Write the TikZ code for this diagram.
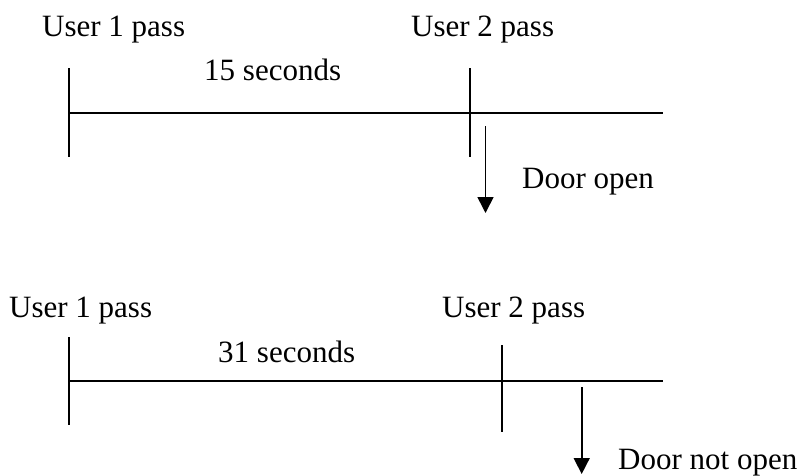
\documentclass[tikz,border=0pt]{standalone}
\usepackage{fontspec}
\setmainfont{Liberation Serif}
\usetikzlibrary{arrows.meta}
\begin{document}
\begin{tikzpicture}[x=1pt,y=-1pt,
  lbl/.style={anchor=base west,inner sep=0pt,font=\fontsize{31}{37}\selectfont},
  tl/.style={line width=1.6pt},
  arr/.style={line width=1.6pt,-{Triangle[width=16pt,length=16pt]}}]
\useasboundingbox (0,0) rectangle (802,475);
% top timeline
\coordinate (a1) at (69,113);
\coordinate (a2) at (663,113);
\coordinate (a1t) at (69,68);
\coordinate (a1b) at (69,157);
\coordinate (a2t) at (470,68);
\coordinate (a2b) at (470,157);
\coordinate (a3t) at (485.5,126);
\coordinate (a3b) at (485.5,213);
\draw[tl] (a1) -- (a2);
\draw[tl] (a1t) -- (a1b);
\draw[tl] (a2t) -- (a2b);
\draw[arr] (a3t) -- (a3b);
\node[lbl] (tu1) at (42,36) {User 1 pass};
\node[lbl] (tu2) at (411,36) {User 2 pass};
\node[lbl] (tsec) at (204,80) {15 seconds};
\node[lbl] (tdoor) at (522,188) {Door open};
% bottom timeline
\coordinate (b1) at (69,381);
\coordinate (b2) at (663,381);
\coordinate (b1t) at (69,337);
\coordinate (b1b) at (69,425);
\coordinate (b2t) at (501.7,345);
\coordinate (b2b) at (501.7,432);
\coordinate (b3t) at (581.7,387);
\coordinate (b3b) at (581.7,474);
\draw[tl] (b1) -- (b2);
\draw[tl] (b1t) -- (b1b);
\draw[tl] (b2t) -- (b2b);
\draw[arr] (b3t) -- (b3b);
\node[lbl] (bu1) at (9,317) {User 1 pass};
\node[lbl] (bu2) at (442,317) {User 2 pass};
\node[lbl] (bsec) at (218,362) {31 seconds};
\node[lbl] (bdoor) at (618,469) {Door not open};
\end{tikzpicture}
\end{document}
